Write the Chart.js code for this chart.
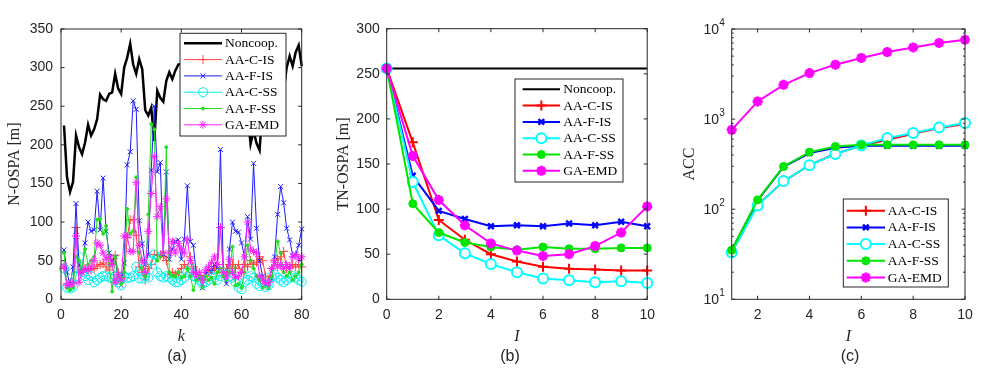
<!DOCTYPE html>
<html>
<head>
<meta charset="utf-8">
<script src="https://cdn.jsdelivr.net/npm/chart.js@4.4.1/dist/chart.umd.min.js"></script>
<style>
  html, body { margin: 0; padding: 0; background: #fff; width: 981px; height: 373px; overflow: hidden; }
  .p { position: absolute; top: 0; width: 340px; height: 373px; }
  .cap { position: absolute; top: 347px; width: 60px; text-align: center;
         font: 16px 'Liberation Sans', Arial, sans-serif; color: #262626; }
</style>
</head>
<body>
<div class="p" style="left:0px"><canvas id="ca" width="340" height="373"></canvas></div>
<div class="p" style="left:322px"><canvas id="cb" width="340" height="373"></canvas></div>
<div class="p" style="left:641px"><canvas id="cc" width="340" height="373"></canvas></div>
<div class="cap" style="left:147px">(a)</div>
<div class="cap" style="left:480px">(b)</div>
<div class="cap" style="left:820px">(c)</div>
<script>
// ---------- データ ----------
// (a) N-OSPA (k = 1..80)
const NONCOOP_A = [225,158,139,152,212,197,188,203,226,212, 220,233,265,259,257,266,268,292,273,266,
  300,313,331,304,292,311,298,245,238,248, 205,270,261,256,283,294,285,296,304,305,
  300,296,310,305,290,298,312,306,288,295, 302,280,290,275,285,296,270,262,275,255,
  248,240,201,218,202,193,250,268,280,290, 275,283,262,270,300,315,302,320,329,302];
const AACIS_A = [40,20,20,22,93,35,38,40,38,38, 40,43,45,47,42,38,48,57,35,30,
  28,80,103,103,83,42,35,25,40,45, 58,57,57,55,50,32,35,32,35,40,
  45,40,55,42,35,30,25,30,35,38, 40,45,93,35,40,45,45,40,45,35,
  45,42,50,45,48,55,50,30,25,40, 50,52,55,62,40,42,45,42,45,42];
const AAFIS_A = [64,35,18,42,124,45,35,73,100,88, 90,140,90,157,88,60,48,55,22,18,
  47,174,191,257,246,102,72,45,58,167, 250,165,177,58,165,52,65,75,77,52,
  78,147,75,70,30,28,15,32,40,35, 45,40,194,30,20,65,100,88,87,73,
  55,107,78,176,92,50,30,18,15,25, 55,110,146,125,92,77,57,58,70,91];
const AACSS_A = [40,15,14,16,30,55,35,30,25,30, 22,25,28,30,30,28,27,30,22,18,
  30,28,28,30,42,27,27,30,28,50, 58,35,30,28,30,28,25,22,22,25,
  28,35,40,30,28,25,20,22,25,30, 28,25,30,35,32,30,28,22,15,13,
  22,25,30,28,20,17,22,16,18,30, 32,28,25,22,25,28,30,28,25,23];
const AAFSS_A = [60,15,12,15,55,50,40,65,45,50, 55,103,104,85,95,45,10,55,30,20,
  35,117,85,88,158,60,40,30,110,227, 220,50,55,60,197,35,30,30,35,28,
  30,40,30,12,25,30,15,30,25,28, 20,35,40,30,25,35,68,18,20,15,
  35,70,50,40,30,25,15,20,15,30, 45,75,60,35,30,35,25,30,35,45];
const GAEMD_A = [43,18,20,20,82,22,35,40,38,42, 50,73,70,60,52,55,45,22,32,25,
  82,82,62,62,151,70,50,35,88,137, 185,107,120,60,130,60,75,60,72,65,
  60,78,50,35,32,35,25,38,42,48, 55,45,93,35,30,52,35,28,30,35,
  55,100,65,62,60,30,25,20,22,40, 48,42,45,40,45,40,55,58,52,55];
const XA_TICKS = [0, 20, 40, 60, 80];
const YA_TICKS = [0, 50, 100, 150, 200, 250, 300, 350];

// (b) TN-OSPA
const I_B = [0, 1, 2, 3, 4, 5, 6, 7, 8, 9, 10];
const NONCOOP_B = [256, 256, 256, 256, 256, 256, 256, 256, 256, 256, 256];
const AACIS_B = [256, 174, 88, 66, 50, 42, 36, 34, 33, 32, 32];
const AAFIS_B = [256, 137, 98, 89, 81, 82, 81, 84, 82, 86, 81];
const AACSS_B = [256, 130, 71, 51, 39, 30, 23, 21, 19, 20, 18];
const AAFSS_B = [256, 106, 74, 63, 58, 55, 58, 56, 56, 57, 57];
const GAEMD_B = [256, 159, 110, 82, 62, 54, 48, 50, 59, 74, 103];
const XB_TICKS = [0, 2, 4, 6, 8, 10];
const YB_TICKS = [0, 50, 100, 150, 200, 250, 300];

// (c) ACC (対数軸)
const I_C = [1, 2, 3, 4, 5, 6, 7, 8, 9, 10];
const AACIS_C = [33, 112, 203, 308, 412, 506, 590, 687, 795, 880];
const AAFIS_C = [35, 125, 295, 420, 480, 505, 505, 505, 505, 505];
const AACSS_C = [33, 110, 205, 308, 410, 510, 615, 700, 808, 903];
const AAFSS_C = [35, 127, 298, 430, 497, 518, 518, 518, 518, 518];
const GAEMD_C = [760, 1570, 2400, 3240, 4020, 4770, 5550, 6250, 6990, 7600];
const XC_TICKS = [2, 4, 6, 8, 10];
const YC_TICKS = [10, 100, 1000, 10000];
const YC_MINOR = [20,30,40,50,60,70,80,90, 200,300,400,500,600,700,800,900, 2000,3000,4000,5000,6000,7000,8000,9000];

// ---------- 共通設定 ----------
const AXIS = '#262626';
const SANS = "'Liberation Sans', Arial, sans-serif";
const SERIF = "'Liberation Serif', 'Times New Roman', serif";

// MATLAB風の枠・内向き目盛り・凡例を描くプラグイン
const boxPlugin = {
  id: 'matlabBox',
  afterDatasetsDraw(chart) {
    const o = chart.options.plugins.matlabBox || {};
    const a = chart.chartArea, ctx = chart.ctx;
    const xs = chart.scales.x, ys = chart.scales.y;
    ctx.save();
    ctx.strokeStyle = AXIS;
    ctx.lineWidth = 1;
    ctx.strokeRect(a.left, a.top, a.right - a.left, a.bottom - a.top);
    const tl = 3.5;
    ctx.beginPath();
    for (const t of xs.ticks) {
      const px = xs.getPixelForValue(t.value);
      ctx.moveTo(px, a.bottom); ctx.lineTo(px, a.bottom - tl);
      ctx.moveTo(px, a.top); ctx.lineTo(px, a.top + tl);
    }
    for (const t of ys.ticks) {
      const py = ys.getPixelForValue(t.value);
      ctx.moveTo(a.left, py); ctx.lineTo(a.left + tl, py);
      ctx.moveTo(a.right, py); ctx.lineTo(a.right - tl, py);
    }
    for (const v of (o.minorY || [])) {
      const py = ys.getPixelForValue(v);
      ctx.moveTo(a.left, py); ctx.lineTo(a.left + 2, py);
      ctx.moveTo(a.right, py); ctx.lineTo(a.right - 2, py);
    }
    ctx.stroke();

    // 対数軸のラベル(10の累乗、指数は上付き)
    if (o.logLabels) {
      ctx.fillStyle = AXIS;
      ctx.textBaseline = 'middle';
      ctx.textAlign = 'left';
      for (const t of ys.ticks) {
        const py = ys.getPixelForValue(t.value);
        const e = String(Math.round(Math.log10(t.value)));
        ctx.font = '10px ' + SANS;
        const ew = ctx.measureText(e).width;
        ctx.font = '14px ' + SANS;
        const bw = ctx.measureText('10').width;
        const right = a.left - 7;
        ctx.fillText('10', right - ew - bw, py + 1);
        ctx.font = '10px ' + SANS;
        ctx.fillText(e, right - ew, py - 6);
      }
    }
    ctx.restore();
  },
  afterDraw(chart) {
    const L = (chart.options.plugins.matlabBox || {}).legend;
    if (!L) return;
    const ctx = chart.ctx;
    ctx.save();
    ctx.fillStyle = '#fff';
    ctx.fillRect(L.x, L.y, L.w, L.h);
    ctx.strokeStyle = AXIS;
    ctx.lineWidth = 1;
    ctx.strokeRect(L.x, L.y, L.w, L.h);
    chart.data.datasets.forEach((ds, i) => {
      const y = L.y + L.row0 + i * L.rowH;
      const x0 = L.x + L.lx0, x1 = L.x + L.lx1;
      ctx.strokeStyle = ds.borderColor;
      ctx.lineWidth = ds.borderWidth;
      ctx.beginPath(); ctx.moveTo(x0, y); ctx.lineTo(x1, y); ctx.stroke();
      if (ds.pointRadius > 0) {
        ctx.fillStyle = ds.pointBackgroundColor || 'transparent';
        ctx.strokeStyle = ds.pointBorderColor || ds.borderColor;
        ctx.lineWidth = ds.pointBorderWidth;
        Chart.helpers.drawPoint(ctx, {
          pointStyle: ds.pointStyle, radius: ds.pointRadius, rotation: 0, borderWidth: ds.pointBorderWidth
        }, (x0 + x1) / 2, y);
      }
      ctx.fillStyle = '#000';
      ctx.font = '13.5px ' + SERIF;
      ctx.textAlign = 'left';
      ctx.textBaseline = 'middle';
      ctx.fillText(ds.label, L.x + L.tx, y + 0.5);
    });
    ctx.restore();
  }
};

// 系列を作る
function series(label, xs, ys, color, width, style, radius, pbw, fill, order) {
  return {
    label, data: ys.map((v, i) => ({ x: xs[i], y: v })),
    borderColor: color, borderWidth: width,
    pointStyle: style || 'circle', pointRadius: style ? radius : 0,
    pointBorderColor: color, pointBorderWidth: pbw,
    pointBackgroundColor: fill || 'transparent',
    tension: 0, clip: false, order
  };
}

function makeChart(id, cfg) {
  const ctx = document.getElementById(id).getContext('2d');
  return new Chart(ctx, {
    type: 'line',
    data: { datasets: cfg.datasets },
    plugins: [boxPlugin],
    options: {
      responsive: false, animation: false, events: [],
      layout: { padding: { left: cfg.padL, right: cfg.padR, top: cfg.padT, bottom: 27 } },
      scales: {
        x: {
          type: 'linear', min: cfg.xMin, max: cfg.xMax,
          afterBuildTicks: s => { s.ticks = cfg.xTicks.map(v => ({ value: v })); },
          afterFit: s => { s.height = 373 - 27 - 299.3; },
          grid: { display: false, drawTicks: false },
          border: { display: false },
          ticks: { color: AXIS, font: { family: SANS, size: 14 }, padding: 7, maxRotation: 0, autoSkip: false },
          title: { display: true, text: cfg.xTitle, color: AXIS, padding: 0,
                   font: { family: SERIF, size: 16, style: 'italic' } }
        },
        y: {
          type: cfg.yType || 'linear', min: cfg.yMin, max: cfg.yMax,
          afterBuildTicks: s => { s.ticks = cfg.yTicks.map(v => ({ value: v })); },
          afterFit: s => { s.width = cfg.plotL - cfg.padL; },
          grid: { display: false, drawTicks: false },
          border: { display: false },
          ticks: { display: !cfg.logLabels, color: AXIS, font: { family: SANS, size: 14 }, padding: cfg.yPad || 7, autoSkip: false },
          title: { display: true, text: cfg.yTitle, color: AXIS, padding: 0,
                   font: { family: SERIF, size: 16 } }
        }
      },
      plugins: {
        legend: { display: false },
        tooltip: { enabled: false },
        matlabBox: { legend: cfg.legend, minorY: cfg.minorY, logLabels: cfg.logLabels }
      }
    }
  });
}

// ---------- (a) ----------
const KA = AACIS_A.map((_, i) => i + 1);
makeChart('ca', {
  padL: 5.4, padR: 340 - 301.7, padT: 29, plotL: 61, yPad: 8,
  xMin: 0, xMax: 80, yMin: 0, yMax: 350, xTicks: XA_TICKS, yTicks: YA_TICKS,
  xTitle: 'k', yTitle: 'N-OSPA [m]',
  legend: { x: 180, y: 33.3, w: 106, h: 102.7, row0: 10, rowH: 16.3, lx0: 4, lx1: 42, tx: 45 },
  datasets: [
    series('Noncoop.', KA, NONCOOP_A, '#000000', 2.5, null, 0, 0, null, 6),
    series('AA-C-IS', KA, AACIS_A, '#ff4040', 1, 'cross', 4.5, 1, null, 5),
    series('AA-F-IS', KA, AAFIS_A, '#1a1aff', 1, 'crossRot', 3.5, 1, null, 4),
    series('AA-C-SS', KA, AACSS_A, '#00f0f0', 1, 'circle', 4.5, 1, null, 3),
    series('AA-F-SS', KA, AAFSS_A, '#20e020', 1, 'circle', 1.5, 1, '#20e020', 2),
    series('GA-EMD', KA, GAEMD_A, '#ff20ff', 1, 'star', 4, 1, null, 1)
  ]
});

// ---------- (b) ----------
makeChart('cb', {
  padL: 12, padR: 340 - 325.3, padT: 28.7, plotL: 64.7, yPad: 7,
  xMin: 0, xMax: 10, yMin: 0, yMax: 300, xTicks: XB_TICKS, yTicks: YB_TICKS,
  xTitle: 'I', yTitle: 'TN-OSPA [m]',
  legend: { x: 193, y: 79, w: 108, h: 103, row0: 10.3, rowH: 16.3, lx0: 7.7, lx1: 45, tx: 48.3 },
  datasets: [
    series('Noncoop.', I_B, NONCOOP_B, '#000000', 2, null, 0, 0, null, 6),
    series('AA-C-IS', I_B, AACIS_B, '#ff0000', 2, 'cross', 5, 2, null, 5),
    series('AA-F-IS', I_B, AAFIS_B, '#0000ff', 2, 'crossRot', 4, 2.5, null, 4),
    series('AA-C-SS', I_B, AACSS_B, '#00ffff', 2, 'circle', 5, 2, '#ffffff', 3),
    series('AA-F-SS', I_B, AAFSS_B, '#00e600', 2, 'circle', 4, 1, '#00e600', 2),
    series('GA-EMD', I_B, GAEMD_B, '#ff00ff', 2, 'star', 5, 3, '#ff00ff', 1)
  ]
});

// ---------- (c) ----------
makeChart('cc', {
  padL: 39.4, padR: 340 - 324, padT: 29, plotL: 90.7, logLabels: true,
  xMin: 1, xMax: 10, yType: 'logarithmic', yMin: 10, yMax: 10000,
  xTicks: XC_TICKS, yTicks: YC_TICKS, minorY: YC_MINOR,
  xTitle: 'I', yTitle: 'ACC',
  legend: { x: 202.3, y: 199, w: 105, h: 88, row0: 11.7, rowH: 16.7, lx0: 3.4, lx1: 41.7, tx: 44.4 },
  datasets: [
    series('AA-C-IS', I_C, AACIS_C, '#ff0000', 2, 'cross', 5, 2, null, 5),
    series('AA-F-IS', I_C, AAFIS_C, '#0000ff', 2, 'crossRot', 4, 2.5, null, 4),
    series('AA-C-SS', I_C, AACSS_C, '#00ffff', 2, 'circle', 5, 2, '#ffffff', 3),
    series('AA-F-SS', I_C, AAFSS_C, '#00e600', 2, 'circle', 4, 1, '#00e600', 2),
    series('GA-EMD', I_C, GAEMD_C, '#ff00ff', 2, 'star', 5, 3, '#ff00ff', 1)
  ]
});
</script>
</body>
</html>
